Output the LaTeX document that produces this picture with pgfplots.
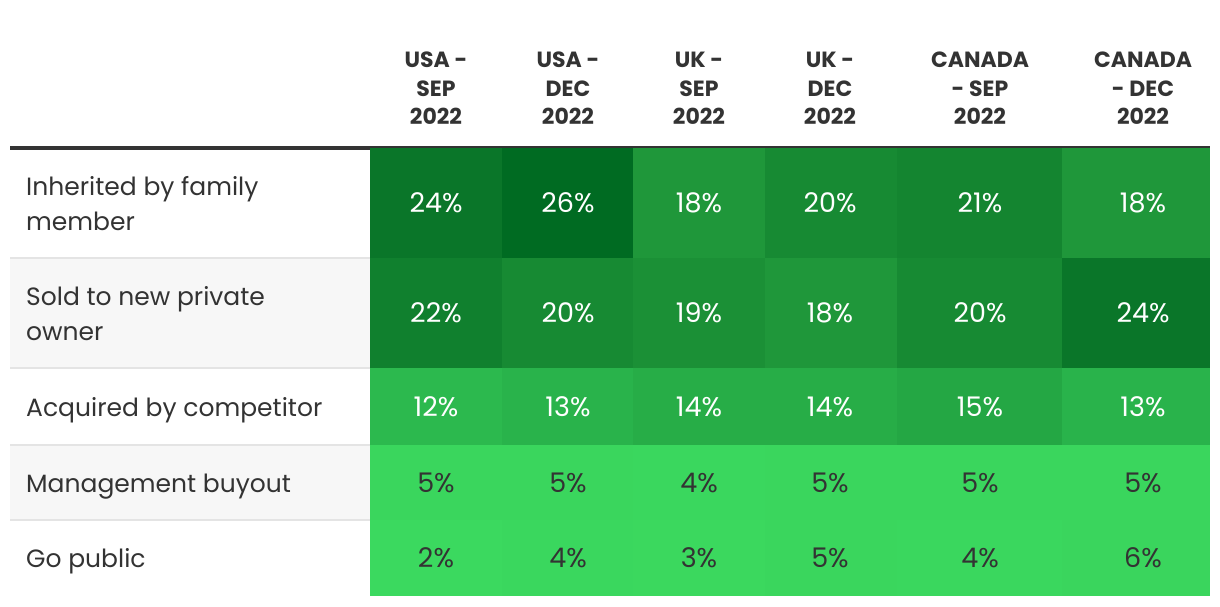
\documentclass[border=0pt]{standalone}
\usepackage{pgfplots}
\pgfplotsset{compat=1.18}
\usepackage{pgfplotstable}
\usepackage{fontspec}
\setmainfont{Poppins}
\definecolor{txt}{HTML}{333333}
\definecolor{rulec}{HTML}{333333}
\definecolor{sepc}{HTML}{E4E4E4}
\definecolor{band}{HTML}{F7F7F7}

\pgfdeclareplotmark{cellrect}{%
  \pgfpathrectangle{\pgfpoint{-0.5*\cw pt-0.4pt}{-0.5*\ch pt-0.4pt}}{\pgfpoint{\cw pt+0.8pt}{\ch pt+0.8pt}}%
  \pgfusepathqfill}

% cx = cell centre, w = cell width, tx = text centre, cy = row centre, h = row height, v = value (%)
\pgfplotstableread{
cx     w    tx    cy     h    v
436    132  436   203    110  24
567.5  131  568   203    110  26
699    132  699   203    110  18
831    132  830   203    110  20
979.5  165  980   203    110  21
1136   148  1143  203    110  18
436    132  436   313    110  22
567.5  131  568   313    110  20
699    132  699   313    110  19
831    132  830   313    110  18
979.5  165  980   313    110  20
1136   148  1143  313    110  24
436    132  436   406.5  77   12
567.5  131  568   406.5  77   13
699    132  699   406.5  77   14
831    132  830   406.5  77   14
979.5  165  980   406.5  77   15
1136   148  1143  406.5  77   13
436    132  436   482.5  75   5
567.5  131  568   482.5  75   5
699    132  699   482.5  75   4
831    132  830   482.5  75   5
979.5  165  980   482.5  75   5
1136   148  1143  482.5  75   5
436    132  436   558    76   2
567.5  131  568   558    76   4
699    132  699   558    76   3
831    132  830   558    76   5
979.5  165  980   558    76   4
1136   148  1143  558    76   6
}\cells

\begin{document}
\begin{tikzpicture}
\begin{axis}[
  x=1pt, y=1pt, y dir=reverse,
  xmin=0, xmax=1220, ymin=0, ymax=606,
  hide axis, clip=false,
  /pgf/number format/assume math mode=true,
  colormap={greens}{rgb255(2cm)=(59,217,95) rgb255(6cm)=(58,213,93) rgb255(12cm)=(44,185,78) rgb255(15cm)=(36,167,68) rgb255(18cm)=(31,151,58) rgb255(20cm)=(23,138,51) rgb255(24cm)=(10,118,41) rgb255(26cm)=(0,107,34)},
  point meta min=2, point meta max=26,
]
\path (axis cs:0,0) rectangle (axis cs:1220,606);
\fill[band] (axis cs:10,258) rectangle (axis cs:370,368);
\fill[band] (axis cs:10,445) rectangle (axis cs:370,520);

\addplot[only marks, scatter, mark=cellrect, point meta=\thisrow{v},
  scatter/use mapped color={draw=none, fill=mapped color},
  visualization depends on={\thisrow{w}\as\cw},
  visualization depends on={\thisrow{h}\as\ch},
] table[x=cx, y=cy] {\cells};

% row separators
\draw[sepc, line width=1.5pt] (axis cs:10,258) -- (axis cs:370,258);
\draw[sepc, line width=1.5pt] (axis cs:10,368) -- (axis cs:370,368);
\draw[sepc, line width=1.5pt] (axis cs:10,445) -- (axis cs:370,445);
\draw[sepc, line width=1.5pt] (axis cs:10,520) -- (axis cs:370,520);
\draw[white, opacity=0.07, line width=1.5pt] (axis cs:370,258) -- (axis cs:1210,258);
\draw[white, opacity=0.07, line width=1.5pt] (axis cs:370,368) -- (axis cs:1210,368);
\draw[white, opacity=0.07, line width=1.5pt] (axis cs:370,445) -- (axis cs:1210,445);
\draw[white, opacity=0.07, line width=1.5pt] (axis cs:370,520) -- (axis cs:1210,520);
% group dividers
\draw[rulec, line width=2pt] (axis cs:633,150) -- (axis cs:633,596);
\draw[rulec, line width=2pt] (axis cs:897,150) -- (axis cs:897,596);
\draw[rulec, line width=4pt] (axis cs:10,148) -- (axis cs:1210,148);

% values
\addplot[no marks, draw=none, point meta=\thisrow{v},
  visualization depends on={\thisrow{v}\as\cv},
  nodes near coords={\ifdim\cv pt>10pt \color{white}\else\color{txt}\fi\pgfmathprintnumber[fixed,precision=0,assume math mode=true]{\cv}\%},
  every node near coord/.append style={anchor=center, inner sep=0pt, font=\fontsize{27}{30}\selectfont},
] table[x=tx, y=cy] {\cells};

% column headers
\tikzset{hdr/.style={anchor=base, text=txt, inner sep=0pt, font=\fontsize{22}{26}\selectfont\bfseries}}
\node[hdr] at (axis cs:436,67) {USA -};
\node[hdr] at (axis cs:436,96) {SEP};
\node[hdr] at (axis cs:436,124) {2022};
\node[hdr] at (axis cs:568,67) {USA -};
\node[hdr] at (axis cs:568,96) {DEC};
\node[hdr] at (axis cs:568,124) {2022};
\node[hdr] at (axis cs:699,67) {UK -};
\node[hdr] at (axis cs:699,96) {SEP};
\node[hdr] at (axis cs:699,124) {2022};
\node[hdr] at (axis cs:830,67) {UK -};
\node[hdr] at (axis cs:830,96) {DEC};
\node[hdr] at (axis cs:830,124) {2022};
\node[hdr] at (axis cs:980,67) {CANADA};
\node[hdr] at (axis cs:980,96) {- SEP};
\node[hdr] at (axis cs:980,124) {2022};
\node[hdr] at (axis cs:1143,67) {CANADA};
\node[hdr] at (axis cs:1143,96) {- DEC};
\node[hdr] at (axis cs:1143,124) {2022};

% row labels
\tikzset{lbl/.style={anchor=base west, text=txt, inner sep=0pt, font=\fontsize{25}{30}\selectfont}}
\node[lbl] at (axis cs:26,195) {Inherited by family};
\node[lbl] at (axis cs:26,230) {member};
\node[lbl] at (axis cs:26,305) {Sold to new private};
\node[lbl] at (axis cs:26,340) {owner};
\node[lbl] at (axis cs:26,416) {Acquired by competitor};
\node[lbl] at (axis cs:26,492) {Management buyout};
\node[lbl] at (axis cs:26,567) {Go public};
\end{axis}
\end{tikzpicture}
\end{document}
